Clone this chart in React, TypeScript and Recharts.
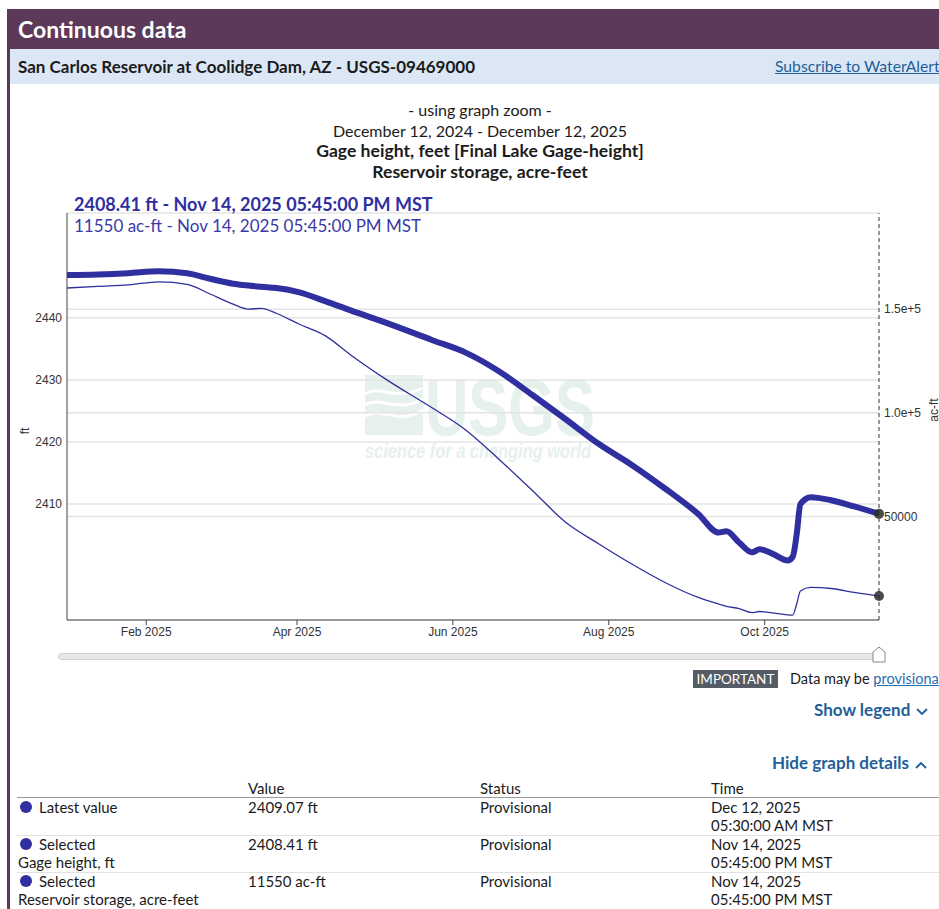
import React from 'react'
import { LineChart, Line, XAxis, YAxis, CartesianGrid, ReferenceLine, ReferenceDot } from 'recharts'

// days since Jan 1, 2025 (MST)
const days = [0, 12, 24, 36, 47, 56, 65, 71, 76, 82, 91, 101, 111, 125, 143, 156, 169, 182, 195, 208, 221, 234, 247, 255, 258, 263, 268, 271, 276, 282, 284, 285.5, 287, 291, 299, 308, 317.74]

// Gage height, feet
const gageFt = [2446.9, 2447.0, 2447.2, 2447.5, 2447.2, 2446.3, 2445.5, 2445.2, 2445.0, 2444.8, 2444.1, 2442.7, 2441.2, 2439.2, 2436.4, 2434.4, 2431.4, 2427.6, 2423.7, 2419.7, 2416.3, 2412.5, 2408.4, 2405.4, 2405.6, 2403.8, 2402.2, 2402.7, 2402.0, 2400.9, 2401.5, 2405.0, 2410.0, 2411.1, 2410.6, 2409.6, 2408.41]

// Reservoir storage, acre-feet
const storageAcFt = [160200, 161000, 161700, 163200, 162000, 157300, 152400, 150000, 150400, 147900, 142700, 137200, 127900, 116000, 102300, 91700, 77600, 62600, 47300, 36800, 27000, 18100, 10900, 7700, 6600, 5500, 3600, 4100, 3400, 2500, 2400, 7600, 14000, 15700, 15200, 13300, 11550]

const xTickDays = [31, 90, 151, 212, 273]
const xTickLabels = ['Feb 2025', 'Apr 2025', 'Jun 2025', 'Aug 2025', 'Oct 2025']
const leftTicks = [2410, 2420, 2430, 2440]
const rightTicks = [50000, 100000, 150000]
const rightTickLabels = ['50000', '1.0e+5', '1.5e+5']

const selectedDay = 317.74
const selectedGage = 2408.41
const selectedStorage = 11550

const tableRows = [
  { label: 'Latest value', sub: '', value: '2409.07 ft', status: 'Provisional', date: 'Dec 12, 2025', time: '05:30:00 AM MST' },
  { label: 'Selected', sub: 'Gage height, ft', value: '2408.41 ft', status: 'Provisional', date: 'Nov 14, 2025', time: '05:45:00 PM MST' },
  { label: 'Selected', sub: 'Reservoir storage, acre-feet', value: '11550 ac-ft', status: 'Provisional', date: 'Nov 14, 2025', time: '05:45:00 PM MST' },
]

const data = days.map((d, i) => ({ day: d, gage: gageFt[i], storage: storageAcFt[i] }))

const LINE = '#2f2f9f'
const PURPLE = '#5c3859'
const LINK = '#1f5f9a'
const ARIAL = '"Liberation Sans", Arial, sans-serif'
const tickStyle = { fontSize: 12, fill: '#333', fontFamily: ARIAL }

const abs = (left: number, top: number, extra: React.CSSProperties = {}): React.CSSProperties => ({
  position: 'absolute', left, top, whiteSpace: 'nowrap', ...extra,
})

function Chevron({ up }: { up?: boolean }) {
  return (
    <svg width={12} height={8} style={{ marginLeft: 6, verticalAlign: 'middle' }}>
      <path d={up ? 'M1 7 L6 2 L11 7' : 'M1 1 L6 6 L11 1'} stroke={LINK} strokeWidth={1.8} fill="none" />
    </svg>
  )
}

function Watermark() {
  const c = '#e6f0ec'
  return (
    <svg width={300} height={130} style={abs(363, 352)}>
      <rect x={2} y={23} width={58} height={60} fill={c} />
      <path d="M2 42 C 18 32, 30 50, 60 36" stroke="#fff" strokeWidth={3} fill="none" />
      <path d="M2 53 C 18 43, 32 62, 60 47" stroke="#fff" strokeWidth={3} fill="none" />
      <path d="M2 64 C 20 54, 34 74, 60 58" stroke="#fff" strokeWidth={3} fill="none" />
      <text x={62} y={83} fontSize={80} fontWeight={700} fill={c} textLength={170} lengthAdjust="spacingAndGlyphs"
        fontFamily={ARIAL}>USGS</text>
      <text x={2} y={106} fontSize={21} fontWeight={700} fontStyle="italic" fill={c} textLength={226} lengthAdjust="spacingAndGlyphs"
        fontFamily={ARIAL}>science for a changing world</text>
    </svg>
  )
}

export default function App() {
  return (
    <div style={{ position: 'absolute', left: 0, top: 0, width: 939, height: 909, overflow: 'hidden', background: '#fff', fontFamily: 'Lato, "Noto Sans", sans-serif', color: '#1b1b1b' }}>
      {/* header */}
      <div style={abs(7, 9, { width: 940, height: 40, background: PURPLE })} />
      <div style={abs(18, 9, { height: 40, lineHeight: '40px', color: '#fff', fontWeight: 700, fontSize: 23 })}>Continuous data</div>
      <div style={abs(7, 49, { width: 3, height: 860, background: PURPLE })} />
      <div style={abs(10, 49, { width: 929, height: 35, background: '#dbe7f4' })} />
      <div style={abs(18, 49, { height: 35, lineHeight: '35px', fontWeight: 700, fontSize: 17 })}>San Carlos Reservoir at Coolidge Dam, AZ - USGS-09469000</div>
      <div style={abs(775, 49, { height: 35, lineHeight: '35px', fontSize: 15.7, color: LINK, textDecoration: 'underline' })}>Subscribe to WaterAlert</div>

      {/* titles */}
      <div style={{ position: 'absolute', left: 0, top: 100, width: 960, textAlign: 'center', fontSize: 16, lineHeight: '20.5px' }}>
        <div>- using graph zoom -</div>
        <div>December 12, 2024 - December 12, 2025</div>
        <div style={{ fontWeight: 700, fontSize: 17.6 }}>Gage height, feet [Final Lake Gage-height]</div>
        <div style={{ fontWeight: 700, fontSize: 17.6 }}>Reservoir storage, acre-feet</div>
      </div>

      <Watermark />

      <div style={abs(0, 200)}>
        <LineChart width={939} height={450} data={data} margin={{ top: 13, right: 8, bottom: 5, left: 27 }}>
          <CartesianGrid yAxisId="left" vertical={false} stroke="#e4e4e4" strokeWidth={1.5} />
          <XAxis dataKey="day" type="number" domain={[0, selectedDay]} ticks={xTickDays}
            tickFormatter={(v: number) => xTickLabels[xTickDays.indexOf(v)]}
            height={25} tick={tickStyle} tickSize={5} tickMargin={2} stroke="#444" allowDataOverflow />
          <YAxis yAxisId="left" orientation="left" width={40} domain={[2391.3, 2456.9]} ticks={leftTicks}
            tick={tickStyle} tickLine={false} tickSize={3} tickMargin={2} stroke="#444" allowDataOverflow />
          <YAxis yAxisId="right" orientation="right" width={52} domain={[0, 196400]} ticks={rightTicks}
            tickFormatter={(v: number) => rightTickLabels[rightTicks.indexOf(v)]}
            tick={tickStyle} tickLine={false} axisLine={false} tickSize={3} tickMargin={2} allowDataOverflow />
          {rightTicks.map(t => (
            <ReferenceLine key={t} yAxisId="right" y={t} stroke="#e4e4e4" strokeWidth={1.5} />
          ))}
          <Line yAxisId="right" dataKey="storage" type="monotone" stroke={LINE} strokeWidth={1.3} dot={false} isAnimationActive={false} />
          <Line yAxisId="left" dataKey="gage" type="monotone" stroke={LINE} strokeWidth={6} strokeLinejoin="round" dot={false} isAnimationActive={false} />
          <ReferenceLine yAxisId="left" x={selectedDay} stroke="#555" strokeDasharray="4 3" strokeWidth={1.2} />
          <ReferenceDot yAxisId="left" x={selectedDay} y={selectedGage} r={5} fill="#2b2b2b" fillOpacity={0.85} stroke="none" />
          <ReferenceDot yAxisId="right" x={selectedDay} y={selectedStorage} r={5} fill="#2b2b2b" fillOpacity={0.85} stroke="none" />
        </LineChart>
      </div>

      {/* axis titles */}
      <div style={abs(22, 424, { fontSize: 12, fontFamily: ARIAL, color: '#333', transform: 'rotate(-90deg)' })}>ft</div>
      <div style={abs(922, 403, { fontSize: 12, fontFamily: ARIAL, color: '#333', transform: 'rotate(-90deg)' })}>ac-ft</div>

      {/* tooltip text */}
      <div style={abs(74, 193, { fontSize: 18, fontWeight: 700, color: '#2f2f9f', lineHeight: '22px' })}>2408.41 ft - Nov 14, 2025 05:45:00 PM MST</div>
      <div style={abs(74, 215, { fontSize: 17, color: '#3a3aa6', lineHeight: '22px' })}>11550 ac-ft - Nov 14, 2025 05:45:00 PM MST</div>

      {/* slider */}
      <div style={abs(58, 653, { width: 822, height: 5, background: '#e8e8e8', border: '1px solid #cfcfcf', borderRadius: 4 })} />
      <svg width={16} height={18} style={abs(871, 646)}>
        <path d="M2 6 L8 1 L14 6 L14 16 L2 16 Z" fill="#fff" stroke="#888" strokeWidth={1} />
      </svg>

      {/* notice */}
      <div style={abs(693, 670, { width: 85, height: 18, lineHeight: '18px', background: '#565c65', color: '#fff', fontSize: 13.5, textAlign: 'center' })}>IMPORTANT</div>
      <div style={abs(790, 669, { fontSize: 14.5, lineHeight: '20px' })}>Data may be <span style={{ color: '#1f6fb2', textDecoration: 'underline' }}>provisional</span></div>

      <div style={abs(814, 699, { fontSize: 17, fontWeight: 700, color: LINK, lineHeight: '22px' })}>Show legend<Chevron /></div>
      <div style={abs(772, 752, { fontSize: 17, fontWeight: 700, color: LINK, lineHeight: '22px' })}>Hide graph details<Chevron up /></div>

      {/* details table */}
      <div style={abs(248, 779, { fontSize: 15, lineHeight: '18px' })}>Value</div>
      <div style={abs(480, 779, { fontSize: 15, lineHeight: '18px' })}>Status</div>
      <div style={abs(711, 779, { fontSize: 15, lineHeight: '18px' })}>Time</div>
      <div style={abs(17, 797, { width: 922, height: 1, background: '#9a9a9a' })} />
      {tableRows.map((r, i) => {
        const top = 798 + i * 37
        return (
          <React.Fragment key={i}>
            <div style={abs(20, top + 3, { width: 12, height: 12, borderRadius: 6, background: LINE })} />
            <div style={abs(39, top, { fontSize: 15, lineHeight: '18px' })}>{r.label}</div>
            {r.sub && <div style={abs(18, top + 18, { fontSize: 15, lineHeight: '18px' })}>{r.sub}</div>}
            <div style={abs(248, top, { fontSize: 15, lineHeight: '18px' })}>{r.value}</div>
            <div style={abs(480, top, { fontSize: 15, lineHeight: '18px' })}>{r.status}</div>
            <div style={abs(711, top, { fontSize: 15, lineHeight: '18px' })}>{r.date}</div>
            <div style={abs(711, top + 18, { fontSize: 15, lineHeight: '18px' })}>{r.time}</div>
            {i < 2 && <div style={abs(17, top + 37, { width: 922, height: 1, background: '#e2e2e2' })} />}
          </React.Fragment>
        )
      })}
    </div>
  )
}
